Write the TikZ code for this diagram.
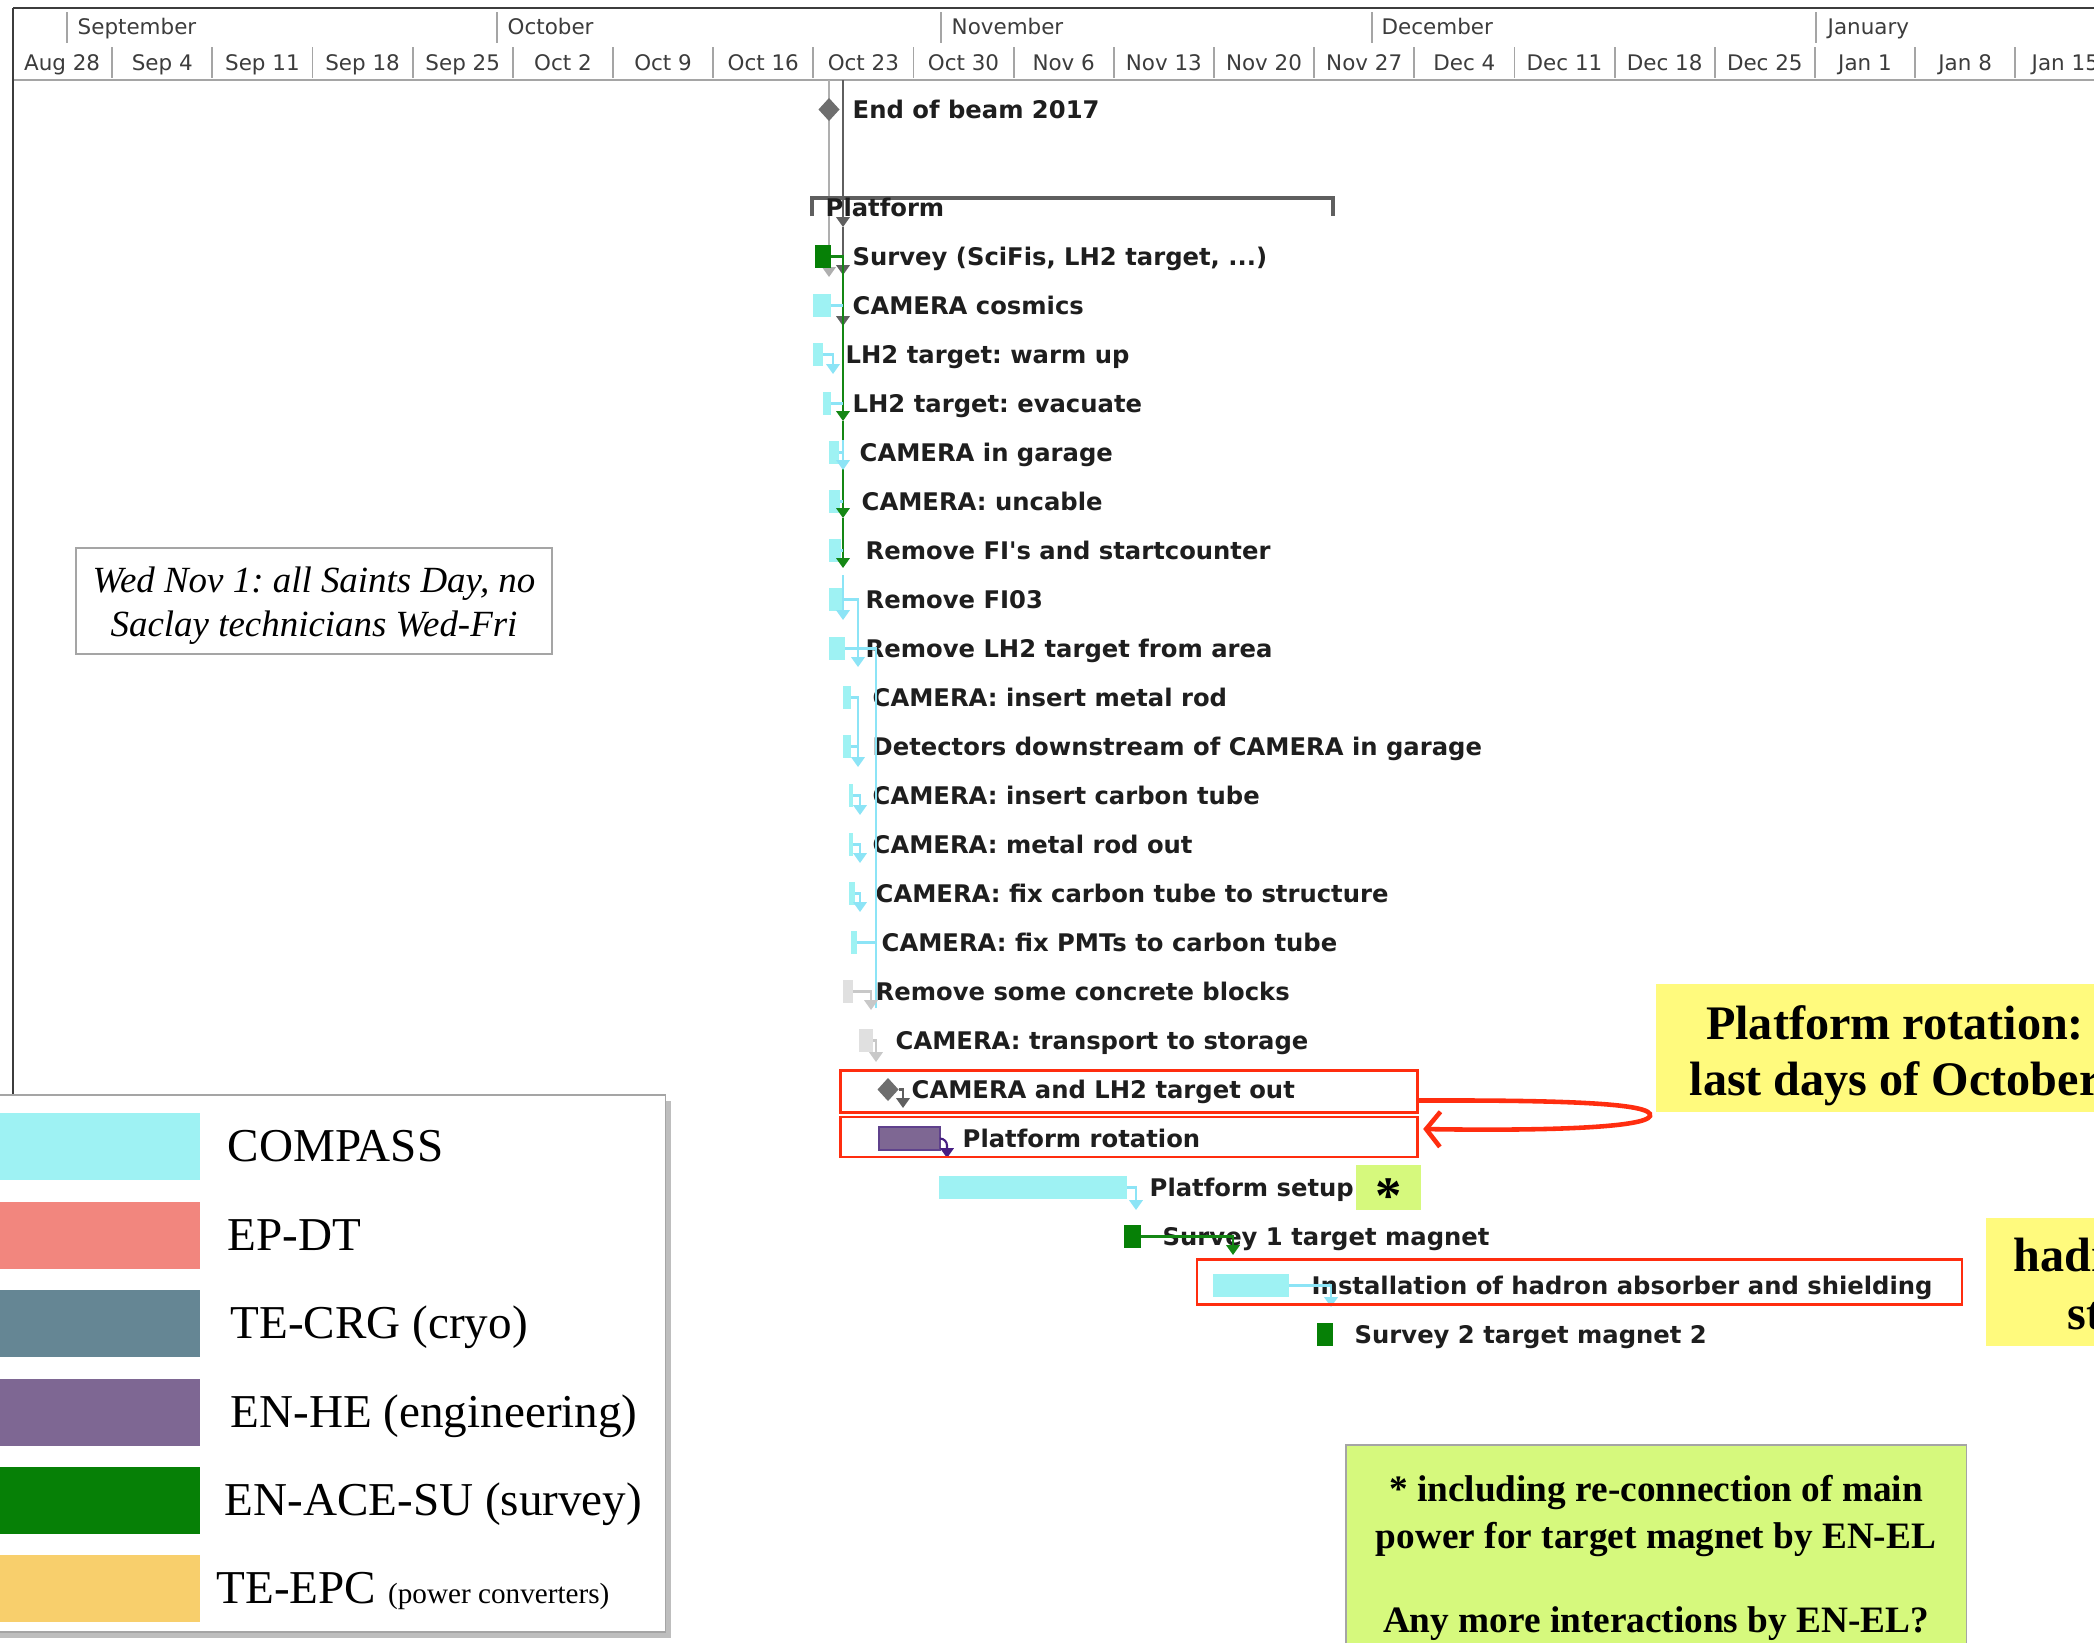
\documentclass[tikz,border=0pt]{standalone}
\usepackage{fontspec}
\setmainfont{Liberation Serif}
\newfontfamily\gfont{DejaVu Sans}
\usetikzlibrary{arrows.meta,shapes.geometric,calc}
\frenchspacing
\definecolor{cmp}{RGB}{158,242,243}
\definecolor{cline}{RGB}{140,228,246}
\definecolor{epdt}{RGB}{242,134,126}
\definecolor{crg}{RGB}{101,134,148}
\definecolor{enhe}{RGB}{126,103,147}
\definecolor{survey}{RGB}{6,128,6}
\definecolor{sline}{RGB}{20,135,20}
\definecolor{epc}{RGB}{248,207,108}
\definecolor{msc}{RGB}{110,110,110}
\definecolor{dkg}{RGB}{95,95,95}
\definecolor{ltg}{RGB}{175,175,175}
\definecolor{gyb}{RGB}{224,224,224}
\definecolor{gyl}{RGB}{200,200,200}
\definecolor{purpedge}{RGB}{95,65,140}
\definecolor{purpline}{RGB}{70,30,130}
\definecolor{redc}{RGB}{255,45,15}
\definecolor{yel}{RGB}{255,250,125}
\definecolor{lime}{RGB}{214,249,125}
\definecolor{hdrc}{RGB}{60,60,60}
\definecolor{hsep}{RGB}{165,165,165}
\definecolor{taskc}{RGB}{30,30,30}
\definecolor{boxg}{RGB}{165,165,165}
\definecolor{shad}{RGB}{190,190,190}
\tikzset{
  bar/.style={inner sep=0pt, outer sep=0pt, minimum height=0.23cm},
  cbar/.style={bar, fill=cmp},
  sbar/.style={bar, fill=survey},
  gybar/.style={bar, fill=gyb},
  pbar/.style={bar, fill=enhe, draw=purpedge, line width=0.6pt},
  mstone/.style={diamond, fill=msc, inner sep=0pt, outer sep=0pt, minimum width=0.21cm, minimum height=0.23cm},
  task/.style={anchor=west, inner sep=0pt, text height=5pt, text depth=0pt, text=taskc, font=\gfont\bfseries\fontsize{6.9}{8}\selectfont},
  hdrtxt/.style={inner sep=0pt, text=hdrc, text height=4.4pt, text depth=0pt, font=\gfont\fontsize{6.1}{7}\selectfont},
  lnk/.style={line width=0.6pt, -{Triangle[width=3.8pt,length=2.8pt]}},
  nolnk/.style={line width=0.6pt},
  redbx/.style={draw=redc, line width=0.8pt, inner sep=0pt, outer sep=0pt},
  yelbox/.style={fill=yel, inner sep=0pt, outer sep=0pt},
  limebox/.style={fill=lime, draw=boxg, line width=0.5pt, inner sep=0pt, outer sep=0pt},
  notebx/.style={draw=boxg, line width=0.5pt, inner sep=0pt, outer sep=0pt},
  swatch/.style={inner sep=0pt, outer sep=0pt, minimum width=2.05cm, minimum height=0.67cm},
  legtxt/.style={anchor=base west, inner sep=0pt, font=\fontsize{13.4}{16}\selectfont},
  bigbold/.style={inner sep=0pt, font=\bfseries\fontsize{13.7}{15.9}\selectfont},
  notetxt/.style={anchor=base, inner sep=0pt, font=\bfseries\fontsize{10.6}{12.6}\selectfont},
}
\newcommand\gb[5]{\pgfmathsetmacro\gbw{(#3-#2)*0.01}\node[#5, anchor=west, minimum width=\gbw cm] (#1) at (#2,{109.5+49*#4}) {};}
\newcommand\tk[4]{\node[task] (#1) at (#2,{109.5+49*#3}) {#4};}
\begin{document}
\begin{tikzpicture}[x=0.01cm,y=-0.01cm]
\useasboundingbox (0,0) rectangle (2094,1642);
\clip (0,0) rectangle (2094,1642);
\fill[white] (0,0) rectangle (2094,1642);

% ---------- timescale header
\draw[line width=0.8pt, color=hdrc] (13,8) -- (2094,8);
\draw[line width=0.6pt, color=hsep] (13,80) -- (2094,80);
\draw[line width=0.7pt, color=hdrc] (13,8) -- (13,1095);
\foreach \x in {67,497,941,1372,1816} \draw[hsep, line width=0.5pt] (\x,12) -- (\x,43);
\foreach \k in {0,...,19} \draw[hsep, line width=0.5pt] ({112.2+100.16*\k},47) -- ({112.2+100.16*\k},78);
\foreach \x/\m [count=\i] in {77/September,507/October,951/November,1381/December,1827/January}
  \node[hdrtxt, anchor=west] (mo\i) at (\x,27) {\m};
\foreach \lab [count=\k from 0] in {Aug 28,Sep 4,Sep 11,Sep 18,Sep 25,Oct 2,Oct 9,Oct 16,Oct 23,Oct 30,Nov 6,Nov 13,Nov 20,Nov 27,Dec 4,Dec 11,Dec 18,Dec 25,Jan 1,Jan 8,Jan 15}
  \node[hdrtxt] (wk\k) at ({62.1+100.16*\k},63) {\lab};

% ---------- lines from the top
\coordinate (hA) at (829,80);
\coordinate (hB) at (843,80);
\draw[lnk, color=ltg] (hA) -- (829,277);
\draw[lnk, color=dkg] (hB) -- (843,227);
\draw[lnk, color=dkg] (843,227) -- (843,275);
\draw[lnk, color=dkg] (843,275) -- (843,326);

% ---------- summary bracket
\coordinate (sumL) at (812,198);
\coordinate (sumR) at (1333,198);
\draw[dkg, line width=0.9pt] ($(sumL)+(0,18)$) -- (sumL) -- (sumR) -- ($(sumR)+(0,18)$);

% ---------- bars and milestones
\node[mstone] (m0) at (829,109.5) {};
\gb{b3}{815}{831}{3}{sbar}
\gb{b4}{813}{831}{4}{cbar}
\gb{b5}{813}{823}{5}{cbar}
\gb{b6}{823}{831}{6}{cbar}
\gb{b7}{829}{839}{7}{cbar}
\gb{b8}{829}{840}{8}{cbar}
\gb{b9}{829}{841}{9}{cbar}
\gb{b10}{829}{843}{10}{cbar}
\gb{b11}{829}{845}{11}{cbar}
\gb{b12}{843}{851}{12}{cbar}
\gb{b13}{843}{851}{13}{cbar}
\gb{b14}{849}{853}{14}{cbar}
\gb{b15}{849}{853}{15}{cbar}
\gb{b16}{849}{855}{16}{cbar}
\gb{b17}{851}{857}{17}{cbar}
\gb{b18}{843}{853}{18}{gybar}
\gb{b19}{859}{873}{19}{gybar}
\node[mstone] (m20) at (888,1089.5) {};
\gb{b21}{879}{940}{21}{pbar}
\gb{b22}{939}{1127}{22}{cbar}
\gb{b23}{1124}{1141}{23}{sbar}
\gb{b24}{1213}{1289}{24}{cbar}
\gb{b25}{1317}{1333}{25}{sbar}

% ---------- task names
\tk{t0}{852}{0}{End of beam 2017}
\tk{t2}{825}{2}{Platform}
\tk{t3}{852}{3}{Survey (SciFis, LH2 target, ...)}
\tk{t4}{852}{4}{CAMERA cosmics}
\tk{t5}{845}{5}{LH2 target: warm up}
\tk{t6}{852}{6}{LH2 target: evacuate}
\tk{t7}{859}{7}{CAMERA in garage}
\tk{t8}{861}{8}{CAMERA: uncable}
\tk{t9}{865}{9}{Remove FI\textquotesingle s and startcounter}
\tk{t10}{865}{10}{Remove FI03}
\tk{t11}{865}{11}{Remove LH2 target from area}
\tk{t12}{872}{12}{CAMERA: insert metal rod}
\tk{t13}{872}{13}{Detectors downstream of CAMERA in garage}
\tk{t14}{872}{14}{CAMERA: insert carbon tube}
\tk{t15}{872}{15}{CAMERA: metal rod out}
\tk{t16}{875}{16}{CAMERA: fix carbon tube to structure}
\tk{t17}{881}{17}{CAMERA: fix PMTs to carbon tube}
\tk{t18}{875}{18}{Remove some concrete blocks}
\tk{t19}{895}{19}{CAMERA: transport to storage}
\tk{t20}{911}{20}{CAMERA and LH2 target out}
\tk{t21}{962}{21}{Platform rotation}
\tk{t22}{1149}{22}{Platform setup}
\tk{t23}{1162}{23}{Survey 1 target magnet}
\tk{t24}{1311}{24}{Installation of hadron absorber and shielding}
\tk{t25}{1354}{25}{Survey 2 target magnet 2}

% ---------- dependency links
\draw[lnk, color=sline] (b3.east) -| (843,421);
\draw[lnk, color=sline] (843,421) -- (843,518);
\draw[lnk, color=sline] (843,518) -- (843,568);
\draw[nolnk, color=cline] (b4.east) -- (843,305.5);
\draw[lnk, color=cline] (b5.east) -| (833,374);
\draw[nolnk, color=cline] (b6.east) -- (843,403.5);
\draw[lnk, color=cline] (843,440) -- (843,470);
\draw[nolnk, color=cline] (b7.east) -- (843,452.5);
\draw[nolnk, color=cline] (b8.east) -- (843,501.5);
\draw[nolnk, color=cline] (b9.east) -- (843,550.5);
\draw[lnk, color=cline] (843,575) -- (843,620);
\draw[lnk, color=cline] (b10.east) -| (858,667);
\draw[nolnk, color=cline] (b11.east) -| (876,1008);
\draw[lnk, color=cline] (b12.east) -| (858,767);
\draw[nolnk, color=cline] (b13.east) -- (858,746.5);
\draw[lnk, color=cline] (b14.east) -| (860,815);
\draw[lnk, color=cline] (b15.east) -| (860,863);
\draw[lnk, color=cline] (b16.east) -| (860,912);
\draw[nolnk, color=cline] (b17.east) -- (876,942.5);
\draw[lnk, color=gyl] (b18.east) -| (871,1010);
\draw[lnk, color=gyl] (b19.east) -| (876,1062);
\draw[lnk, color=dkg] (m20.east) -| (903,1108);
\draw[lnk, color=purpline, rounded corners=2pt] (b21.east) -| (947,1158);
\draw[lnk, color=cline] (b22.east) -| (1136,1210);
\draw[lnk, color=sline] (b23.east) -| (1233,1255);
\draw[lnk, color=cline] (b24.east) -| (1331,1307);

% ---------- highlight boxes
\node[redbx, minimum width=5.76cm, minimum height=0.42cm] (r1) at (1129,1091.5) {};
\node[redbx, minimum width=5.76cm, minimum height=0.40cm] (r2) at (1129,1137) {};
\node[redbx, line width=0.6pt, minimum width=7.65cm, minimum height=0.45cm] (r3) at (1579.5,1282) {};
\node[yelbox, fill=lime, minimum width=0.65cm, minimum height=0.45cm] (astbox) at (1388.5,1187.5) {};
\node[inner sep=0pt, font=\bfseries\fontsize{15}{17}\selectfont, yshift=-2.5pt] (ast) at (astbox.center) {*};

% ---------- callouts
\node[yelbox, minimum width=4.78cm, minimum height=1.28cm] (call1) at (1895,1048) {};
\node[bigbold, align=center] (call1t) at (1895,1056) {Platform rotation:\\last days of October};
\draw[redc, line width=1.3pt, -{Straight Barb[length=4pt,width=10pt]}]
  ($(r1.east)+(0,9)$) .. controls (1560,1100) and (1655,1103) .. (1650,1116)
  .. controls (1645,1128) and (1540,1131) .. ($(r2.east)+(6,-8)$);
\node[yelbox, anchor=north west, minimum width=1.3cm, minimum height=1.28cm] (call2) at (1986,1218) {};
\node[bigbold, anchor=base west] (h1) at (2013,1271) {hadron};
\node[bigbold, anchor=base west] (h2) at (2067,1329) {start};

% ---------- green note
\node[limebox, anchor=north west, minimum width=6.2cm, minimum height=2.3cm] (gnote) at (1346,1445) {};
\node[notetxt] (g1) at (1656,1501) {* including re-connection of main};
\node[notetxt] (g2) at (1656,1548) {power for target magnet by EN-EL};
\node[notetxt] (g3) at (1656,1632) {Any more interactions by EN-EL?};

% ---------- note box
\node[notebx, minimum width=4.76cm, minimum height=1.06cm] (note) at (314,601) {};
\node[anchor=base, inner sep=0pt, font=\itshape\fontsize{10.5}{12.5}\selectfont] (n1) at (314,592) {Wed Nov 1: all Saints Day, no};
\node[anchor=base, inner sep=0pt, font=\itshape\fontsize{10.5}{12.5}\selectfont] (n2) at (314,636) {Saclay technicians Wed-Fri};

% ---------- legend
\fill[shad] (-10,1101) rectangle (671,1638);
\node[notebx, fill=white, anchor=north west, minimum width=6.75cm, minimum height=5.37cm] (leg) at (-10,1095) {};
\foreach \c/\y [count=\i] in {cmp/1146,epdt/1235,crg/1323,enhe/1412,survey/1500,epc/1588}
  \node[swatch, fill=\c] (sw\i) at (97.5,\y) {};
\node[legtxt] (l1) at (227,1161.6) {COMPASS};
\node[legtxt] (l2) at (227,1250.6) {EP-DT};
\node[legtxt] (l3) at (230,1338.6) {TE-CRG (cryo)};
\node[legtxt] (l4) at (230,1427.6) {EN-HE (engineering)};
\node[legtxt] (l5) at (224,1515.6) {EN-ACE-SU (survey)};
\node[legtxt] (l6) at (216,1603.6) {TE-EPC {\fontsize{8.3}{10}\selectfont (power converters)}};
\end{tikzpicture}
\end{document}
